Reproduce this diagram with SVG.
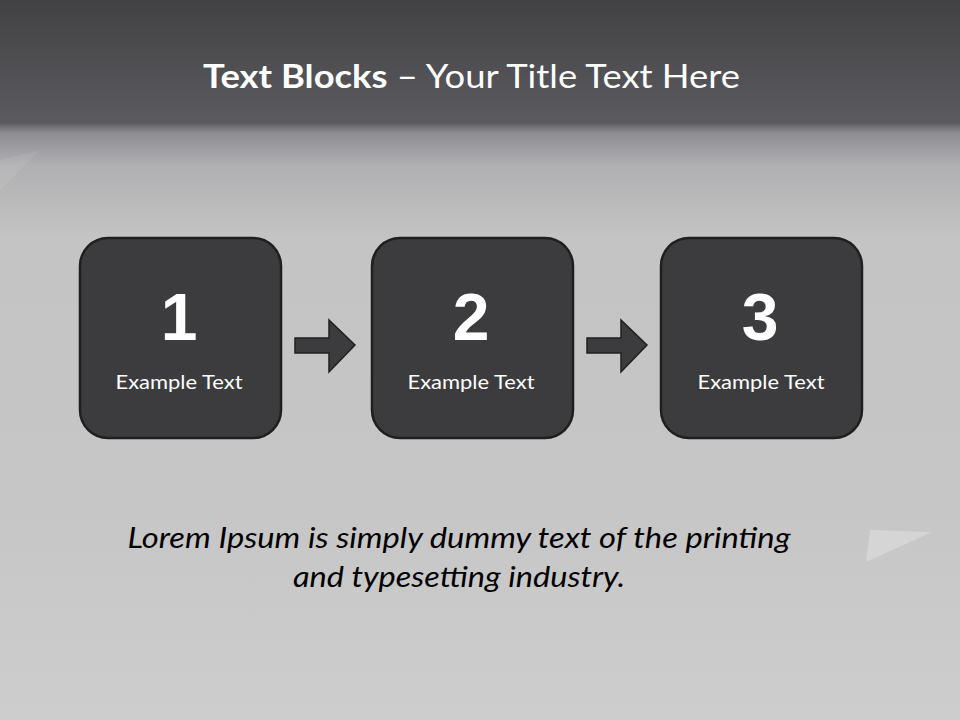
<svg xmlns="http://www.w3.org/2000/svg" width="960" height="720" viewBox="0 0 960 720">
<defs>
<linearGradient id="bg" x1="0" y1="0" x2="0" y2="1">
<stop offset="0" stop-color="#424244"/>
<stop offset="0.17" stop-color="#5b5a5f"/>
<stop offset="0.185" stop-color="#8e8d92"/>
<stop offset="0.23" stop-color="#b0b0b2"/>
<stop offset="0.33" stop-color="#c4c4c4"/>
<stop offset="0.7" stop-color="#c6c6c6"/>
<stop offset="1" stop-color="#cdcdcd"/>
</linearGradient>
<style>
.box{fill:#3c3c3e;stroke:#1f1f20;stroke-width:2.5}
.num{font-family:"Liberation Sans",Arial,sans-serif;font-weight:bold;font-size:66px;fill:#ffffff;text-anchor:middle}
.lbl{font-family:Lato,"Open Sans",sans-serif;font-size:20px;fill:#ffffff;text-anchor:middle}
.arrow{fill:#3c3c3e;stroke:#1f1f20;stroke-width:1.5}
.title{font-family:Lato,"Open Sans",sans-serif;font-size:33px;fill:#ffffff}
.body{font-family:Lato,"Open Sans",sans-serif;font-style:italic;font-size:28px;fill:#000000;text-anchor:middle}
</style>
</defs>
<rect x="0" y="0" width="960" height="720" fill="url(#bg)"/>
<polygon points="0,160 40,150 0,190" fill="#ffffff" opacity="0.08"/>
<polygon points="870,530 932,532 866,562" fill="#ffffff" opacity="0.25"/>
<text class="title" x="203" y="88" textLength="537" lengthAdjust="spacingAndGlyphs"><tspan font-weight="bold">Text Blocks</tspan> – Your Title Text Here</text>
<g id="connectors">
<polygon class="arrow" points="295,338 329,338 329,320 355,345 329,372 329,353 295,353"/>
<polygon class="arrow" points="587,338 621,338 621,320 647,345 621,372 621,353 587,353"/>
</g>
<g id="node1">
<rect class="box" x="80" y="238" width="201" height="200" rx="28"/>
<text class="num" x="179" y="340">1</text>
<text class="lbl" x="179" y="389" textLength="127" lengthAdjust="spacingAndGlyphs">Example Text</text>
</g>
<g id="node2">
<rect class="box" x="372" y="238" width="201" height="200" rx="28"/>
<text class="num" x="471" y="340">2</text>
<text class="lbl" x="471" y="389" textLength="127" lengthAdjust="spacingAndGlyphs">Example Text</text>
</g>
<g id="node3">
<rect class="box" x="661" y="238" width="201" height="200" rx="28"/>
<text class="num" x="760" y="340">3</text>
<text class="lbl" x="761" y="389" textLength="127" lengthAdjust="spacingAndGlyphs">Example Text</text>
</g>
<text class="body" x="459" y="548" textLength="663" lengthAdjust="spacingAndGlyphs">Lorem Ipsum is simply dummy text of the printing</text>
<text class="body" x="459" y="587" textLength="332" lengthAdjust="spacingAndGlyphs">and typesetting industry.</text>
</svg>
